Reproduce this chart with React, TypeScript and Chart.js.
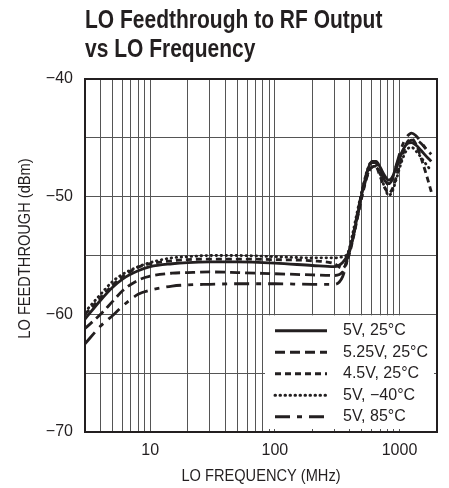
import React, { useEffect, useRef } from 'react';
import { Chart, registerables } from 'chart.js';

Chart.register(...registerables);

const TITLE_LINES = ['LO Feedthrough to RF Output', 'vs LO Frequency'];
const X_TITLE = 'LO FREQUENCY (MHz)';
const Y_TITLE = 'LO FEEDTHROUGH (dBm)';

const freqMHz = [3, 4, 5, 6, 8, 10, 15, 20, 30, 50, 100, 200, 300, 350, 385, 420, 460, 500, 550, 600, 650, 700, 760, 820, 880, 950, 1050, 1150, 1250, 1350, 1500, 1650, 1800];

const s5V25C = [-60.4, -58.8, -57.7, -57.0, -56.3, -55.95, -55.7, -55.6, -55.55, -55.55, -55.65, -55.85, -55.95, -55.6, -54.9, -53.6, -51.6, -49.7, -47.9, -47.0, -47.0, -47.5, -48.2, -48.6, -48.3, -47.3, -46.2, -45.5, -45.4, -45.6, -46.1, -46.6, -47.0];
const s525V25C = [-61.2, -60.0, -58.9, -58.0, -57.1, -56.75, -56.5, -56.45, -56.4, -56.45, -56.55, -56.65, -56.7, -56.4, -55.1, -53.5, -51.4, -49.6, -47.9, -47.1, -47.1, -47.7, -48.4, -48.9, -48.5, -47.5, -46.2, -45.5, -45.2, -45.2, -45.5, -46.0, -46.4];
const s45V25C = [-60.0, -58.6, -57.5, -56.8, -56.0, -55.7, -55.45, -55.35, -55.3, -55.3, -55.35, -55.45, -55.7, -56.1, -55.3, -53.8, -51.8, -50.0, -48.3, -47.5, -47.5, -48.3, -49.2, -49.7, -49.3, -48.2, -46.6, -45.4, -45.1, -45.5, -46.8, -48.2, -49.6];
const s5Vm40C = [-59.8, -58.3, -57.2, -56.6, -55.95, -55.6, -55.2, -55.1, -55.0, -55.0, -55.1, -55.2, -55.2, -55.1, -54.8, -53.2, -51.2, -49.5, -47.8, -47.0, -47.2, -48.1, -49.2, -49.9, -49.5, -48.4, -46.9, -46.0, -45.8, -46.1, -46.7, -47.3, -47.8];
const s5V85C = [-62.5, -61.0, -60.1, -59.3, -58.3, -57.95, -57.6, -57.5, -57.45, -57.4, -57.4, -57.45, -57.45, -56.8, -55.2, -53.7, -51.7, -49.9, -48.2, -47.5, -47.4, -47.9, -48.6, -49.0, -48.4, -47.2, -45.7, -44.9, -44.6, -44.8, -45.4, -46.0, -46.3];

const seriesLabels = ['5V, 25°C', '5.25V, 25°C', '4.5V, 25°C', '5V, \u221240°C', '5V, 85°C'];

const xGridValues = [4, 5, 6, 7, 8, 9, 10, 20, 30, 40, 50, 60, 70, 80, 90, 100, 200, 300, 400, 500, 600, 700, 800, 900, 1000, 2000];
const xTickLabels = [10, 100, 1000];
const yTickLabels = [-70, -60, -50, -40];

const INK = '#231f20';
const GRID = '#555555';
const SANS = '"Liberation Sans", Arial, sans-serif';

const styles = [
  { dash: [], cap: 'butt' as CanvasLineCap },
  { dash: [10, 5], cap: 'butt' as CanvasLineCap },
  { dash: [6, 4], cap: 'butt' as CanvasLineCap },
  { dash: [0.5, 4.5], cap: 'round' as CanvasLineCap },
  { dash: [15, 7, 5, 7], cap: 'butt' as CanvasLineCap },
];

const seriesValues = [s5V25C, s525V25C, s45V25C, s5Vm40C, s5V85C];

function drawCondensed(
  ctx: CanvasRenderingContext2D,
  text: string,
  x: number,
  y: number,
  font: string,
  sx: number,
  align: CanvasTextAlign,
  baseline: CanvasTextBaseline,
  rotate = 0,
) {
  ctx.save();
  ctx.translate(x, y);
  if (rotate) ctx.rotate(rotate);
  ctx.scale(sx, 1);
  ctx.font = font;
  ctx.fillStyle = INK;
  ctx.textAlign = align;
  ctx.textBaseline = baseline;
  ctx.fillText(text, 0, 0);
  ctx.restore();
}

const decorPlugin = {
  id: 'decor',
  beforeDatasetsDraw(chart: any) {
    const { ctx, chartArea: ca, scales } = chart;
    const top = scales.y.getPixelForValue(-60) + 1;
    const right = ca.right - 3;
    const bottom = ca.bottom - 3;
    const left = ca.right - 172;
    ctx.save();
    ctx.fillStyle = '#ffffff';
    ctx.fillRect(left, top, right - left, bottom - top);
    chart.data.datasets.forEach((ds: any, i: number) => {
      const y = top + 15.5 + i * 21.5;
      ctx.setLineDash(ds.borderDash || []);
      ctx.lineCap = ds.borderCapStyle || 'butt';
      ctx.lineWidth = 3;
      ctx.strokeStyle = INK;
      ctx.beginPath();
      ctx.moveTo(left + 10, y);
      ctx.lineTo(left + 62, y);
      ctx.stroke();
      ctx.setLineDash([]);
      ctx.fillStyle = INK;
      ctx.font = '16px ' + SANS;
      ctx.textBaseline = 'middle';
      ctx.textAlign = 'left';
      ctx.fillText(ds.label, left + 78, y);
    });
    ctx.restore();
  },
  afterDraw(chart: any) {
    const { ctx, chartArea: ca } = chart;
    ctx.save();
    ctx.strokeStyle = INK;
    ctx.lineWidth = 2;
    ctx.setLineDash([]);
    ctx.strokeRect(ca.left, ca.top, ca.right - ca.left, ca.bottom - ca.top);
    ctx.restore();
    TITLE_LINES.forEach((t, i) => {
      drawCondensed(ctx, t, ca.left, ca.top - 51 + i * 29, 'bold 25px ' + SANS, 0.84, 'left', 'alphabetic');
    });
    const midX = (ca.left + ca.right) / 2;
    drawCondensed(ctx, X_TITLE, midX, ca.bottom + 44, '17px ' + SANS, 0.86, 'center', 'middle');
    drawCondensed(ctx, Y_TITLE, 25, (ca.top + ca.bottom) / 2 - 7, '17px ' + SANS, 0.86, 'center', 'middle', -Math.PI / 2);
  },
};

export default function App() {
  const ref = useRef<HTMLCanvasElement | null>(null);
  useEffect(() => {
    if (!ref.current) return;
    const chart = new Chart(ref.current, {
      type: 'line',
      data: {
        datasets: seriesValues.map((vals, i) => ({
          label: seriesLabels[i],
          data: freqMHz.map((f, j) => ({ x: f, y: vals[j] })),
          borderColor: INK,
          borderWidth: 2.8,
          borderDash: styles[i].dash,
          borderCapStyle: styles[i].cap,
          pointRadius: 0,
          fill: false,
          cubicInterpolationMode: 'monotone' as const,
        })),
      },
      options: {
        responsive: false,
        animation: false,
        layout: { padding: { top: 79, right: 12, bottom: 0, left: 0 } },
        plugins: {
          legend: { display: false },
          title: { display: false },
          tooltip: { enabled: false },
        },
        scales: {
          x: {
            type: 'logarithmic',
            min: 3,
            max: 2000,
            afterBuildTicks: (s: any) => {
              s.ticks = xGridValues.map((v) => ({ value: v }));
            },
            afterFit: (s: any) => {
              s.height = 56;
            },
            ticks: {
              autoSkip: false,
              maxRotation: 0,
              padding: 9,
              color: INK,
              font: { family: SANS, size: 16 },
              callback: (v: any) => (xTickLabels.includes(Number(v)) ? String(v) : ''),
            },
            grid: { color: GRID, lineWidth: 1, drawTicks: false },
            border: { display: false },
          },
          y: {
            min: -70,
            max: -40,
            afterFit: (s: any) => {
              s.width = 85;
            },
            ticks: {
              stepSize: 5,
              padding: 12,
              color: INK,
              font: { family: SANS, size: 16 },
              callback: (v: any) => (yTickLabels.includes(Number(v)) ? '\u2212' + Math.abs(Number(v)) : ''),
            },
            grid: { color: GRID, lineWidth: 1, drawTicks: false },
            border: { display: false },
          },
        },
      },
      plugins: [decorPlugin],
    });
    return () => chart.destroy();
  }, []);
  return (
    <canvas
      ref={ref}
      width={449}
      height={488}
      style={{ position: 'fixed', left: 0, top: 0, width: 449, height: 488 }}
    />
  );
}
